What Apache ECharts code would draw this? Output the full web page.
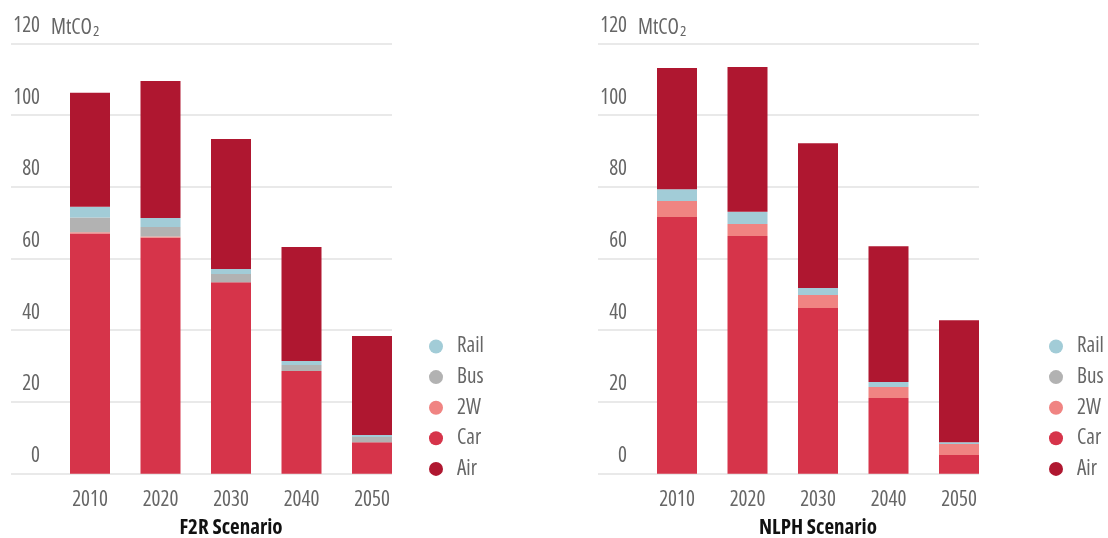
<!DOCTYPE html>
<html>
<head>
<meta charset="utf-8">
<script src="https://cdn.jsdelivr.net/npm/echarts@6/dist/echarts.min.js"></script>
<style>
  html, body { margin: 0; padding: 0; background: #fff; }
  #chart { width: 1108px; height: 538px; }
</style>
</head>
<body>
<div id="chart"></div>
<script>
var years = ['2010', '2020', '2030', '2040', '2050'];
var modes = ['Rail', 'Bus', '2W', 'Car', 'Air'];

// F2R scenario, MtCO2
var f2rCar = [67.0, 65.8, 53.4, 28.6, 8.8];
var f2r2W = [0.3, 0.3, 0, 0, 0];
var f2rBus = [4.1, 2.7, 2.3, 1.7, 1.4];
var f2rRail = [3.0, 2.5, 1.4, 1.1, 0.6];
var f2rAir = [31.8, 38.2, 36.2, 31.8, 27.6];

// NLPH scenario, MtCO2
var nlphCar = [71.6, 66.3, 46.2, 21.1, 5.2];
var nlph2W = [4.4, 3.3, 3.6, 3.1, 3.1];
var nlphBus = [0, 0, 0, 0, 0];
var nlphRail = [3.3, 3.4, 2.0, 1.4, 0.5];
var nlphAir = [33.8, 40.4, 40.3, 37.8, 34.0];

var colors = {
  Rail: '#a2ccd7',
  Bus: '#b2b2b2',
  '2W': '#f08482',
  Car: '#d6344a',
  Air: '#af1730'
};

// condensed width of the variable font
var font = "'Open Sans', sans-serif";
var thin = 'normal condensed';
var gray = '#666';

var myChart = echarts.init(document.getElementById('chart'));

function gridAxisY(idx) {
  // axis with gridlines and labels (wider grid)
  return {
    type: 'value', gridIndex: idx, min: 0, max: 120, interval: 20,
    axisLine: {show: false}, axisTick: {show: false},
    splitLine: {lineStyle: {color: '#e2e2e2', width: 1.5}},
    axisLabel: {
      color: gray, fontFamily: font, fontWeight: thin, fontSize: 21, lineHeight: 21,
      align: 'right', verticalAlign: 'bottom', margin: -29,
      padding: [0, 0, 7, 0]
    },
    name: '{a|MtCO}{s|2}',
    nameLocation: 'end', nameGap: 0,
    nameTextStyle: {
      align: 'left', verticalAlign: 'bottom', padding: [0, 0, 5, 40],
      rich: {
        a: {color: gray, fontFamily: font, fontWeight: thin, fontSize: 21, lineHeight: 21, verticalAlign: 'top'},
        s: {color: gray, fontFamily: font, fontWeight: thin, fontSize: 15, lineHeight: 15, verticalAlign: 'top', padding: [7, 0, 0, 1]}
      }
    }
  };
}

function barAxisY(idx) {
  return {type: 'value', gridIndex: idx, min: 0, max: 120, show: false};
}

function barAxisX(idx, title) {
  return {
    type: 'category', gridIndex: idx, data: years,
    axisLine: {show: false}, axisTick: {show: false},
    axisLabel: {color: gray, fontFamily: font, fontWeight: thin, fontSize: 21, margin: 16},
    name: title, nameLocation: 'middle', nameGap: 44,
    nameTextStyle: {color: '#111', fontFamily: font, fontWeight: 'bold condensed', fontSize: 21}
  };
}

function makeSeries(axisIdx, stack, car, w2, bus, rail, air) {
  var list = [['Car', car], ['2W', w2], ['Bus', bus], ['Rail', rail], ['Air', air]];
  return list.map(function (d) {
    return {
      name: d[0], type: 'bar', stack: stack, data: d[1],
      xAxisIndex: axisIdx, yAxisIndex: axisIdx,
      barWidth: 40,
      itemStyle: {color: colors[d[0]]},
      emphasis: {disabled: true}
    };
  });
}

function makeLegend(left) {
  return {
    orient: 'vertical', left: left, top: 331,
    data: modes, icon: 'circle', itemWidth: 14, itemHeight: 14, itemGap: 9.6,
    selectedMode: false,
    textStyle: {color: gray, fontFamily: font, fontWeight: thin, fontSize: 21, lineHeight: 20, padding: [0, 0, 0, 9]}
  };
}

function makeGrid(left, width) {
  return {left: left, top: 43.3, width: width, height: 430.4, outerBoundsMode: 'none'};
}

myChart.setOption({
  animation: false,
  color: modes.map(function (m) { return colors[m]; }),
  grid: [
    makeGrid(11, 381),
    makeGrid(54.75, 352.5),
    makeGrid(598, 381),
    makeGrid(641.75, 352.5)
  ],
  xAxis: [
    {type: 'value', gridIndex: 0, show: false},
    barAxisX(1, 'F2R Scenario'),
    {type: 'value', gridIndex: 2, show: false},
    barAxisX(3, 'NLPH Scenario')
  ],
  yAxis: [gridAxisY(0), barAxisY(1), gridAxisY(2), barAxisY(3)],
  legend: [makeLegend(424), makeLegend(1044)],
  series: [].concat(
    makeSeries(1, 'f2r', f2rCar, f2r2W, f2rBus, f2rRail, f2rAir),
    makeSeries(3, 'nlph', nlphCar, nlph2W, nlphBus, nlphRail, nlphAir)
  )
});

window.onresize = function () {
  myChart.resize();
};
</script>
</body>
</html>
